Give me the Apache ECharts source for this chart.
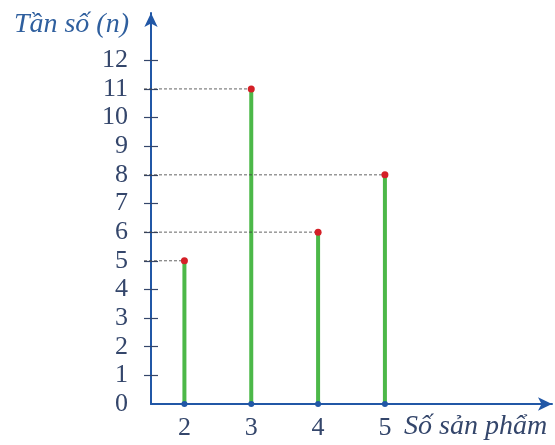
<!DOCTYPE html>
<html>
<head>
<meta charset="utf-8">
<script src="https://cdn.jsdelivr.net/npm/echarts@6/dist/echarts.min.js"></script>
<style>
  html, body { margin: 0; padding: 0; background: #fff; }
  #chart { width: 555px; height: 445px; }
</style>
</head>
<body>
<div id="chart"></div>
<script>
// so san pham (x) and tan so (n)
var categories = [2, 3, 4, 5];
var frequencies = [5, 11, 6, 8];
var yTicks = [0, 1, 2, 3, 4, 5, 6, 7, 8, 9, 10, 11, 12];

var axisBlue = '#2157a6';
var labelColor = '#34466b';
var serif = '"Liberation Serif", "DejaVu Serif", serif';

var chart = echarts.init(document.getElementById('chart'));

var data = categories.map(function (c, i) { return [c, frequencies[i]]; });

function renderStem(params, api) {
  var x = api.value(0), v = api.value(1);
  var top = api.coord([x, v]);
  var base = api.coord([x, 0]);
  var left = api.coord([1.5, v]);
  return {
    type: 'group',
    children: [
      {
        type: 'line',
        shape: { x1: left[0] - 7, y1: top[1], x2: top[0], y2: top[1] },
        style: { stroke: '#3c3c3c', lineWidth: 0.8, lineDash: [3, 2] }
      },
      {
        type: 'line',
        shape: { x1: base[0], y1: base[1], x2: top[0], y2: top[1] },
        style: { stroke: '#4cb848', lineWidth: 4 }
      },
      {
        type: 'circle',
        shape: { cx: top[0], cy: top[1], r: 3.5 },
        style: { fill: '#d42027' }
      },
      {
        type: 'circle',
        shape: { cx: base[0], cy: base[1], r: 3 },
        style: { fill: axisBlue }
      }
    ]
  };
}

chart.setOption({
  animation: false,
  grid: { left: 151, right: 3, top: 13, bottom: 41 },
  xAxis: {
    type: 'value',
    min: 1.5,
    max: 7.5,
    splitLine: { show: false },
    axisTick: { show: false },
    axisLine: {
      show: true,
      symbol: ['none', 'arrow'],
      symbolSize: [10, 14],
      lineStyle: { color: axisBlue, width: 2 }
    },
    axisLabel: {
      customValues: categories,
      margin: 11,
      color: labelColor,
      fontFamily: serif,
      fontSize: 26
    },
    name: 'Số sản phẩm',
    nameLocation: 'end',
    nameGap: -148,
    nameTextStyle: {
      align: 'left',
      verticalAlign: 'top',
      padding: [9, 0, 0, 0],
      color: labelColor,
      fontFamily: serif,
      fontStyle: 'italic',
      fontSize: 28
    }
  },
  yAxis: [
    {
      type: 'value',
      min: 0,
      max: 13.65,
      splitLine: { show: false },
      axisLine: {
        show: true,
        symbol: ['none', 'arrow'],
        symbolSize: [10, 14],
        lineStyle: { color: axisBlue, width: 2 }
      },
      axisTick: {
        show: true,
        customValues: yTicks.slice(1),
        length: 7,
        lineStyle: { color: labelColor, width: 1.2 }
      },
      axisLabel: {
        customValues: yTicks,
        margin: 23,
        color: labelColor,
        fontFamily: serif,
        fontSize: 26
      },
      name: 'Tần số (n)',
      nameLocation: 'end',
      nameGap: -12,
      nameTextStyle: {
        align: 'right',
        verticalAlign: 'middle',
        padding: [0, 22, 0, 0],
        color: '#2f5f9e',
        fontFamily: serif,
        fontStyle: 'italic',
        fontSize: 28
      }
    },
    {
      type: 'value',
      min: 0,
      max: 13.65,
      position: 'left',
      splitLine: { show: false },
      axisLine: { show: false },
      axisLabel: { show: false },
      axisTick: {
        show: true,
        inside: true,
        customValues: yTicks.slice(1),
        length: 7,
        lineStyle: { color: labelColor, width: 1.2 }
      }
    }
  ],
  series: [
    {
      type: 'custom',
      renderItem: renderStem,
      data: data,
      encode: { x: 0, y: 1 },
      z: 1
    }
  ]
});
</script>
</body>
</html>
